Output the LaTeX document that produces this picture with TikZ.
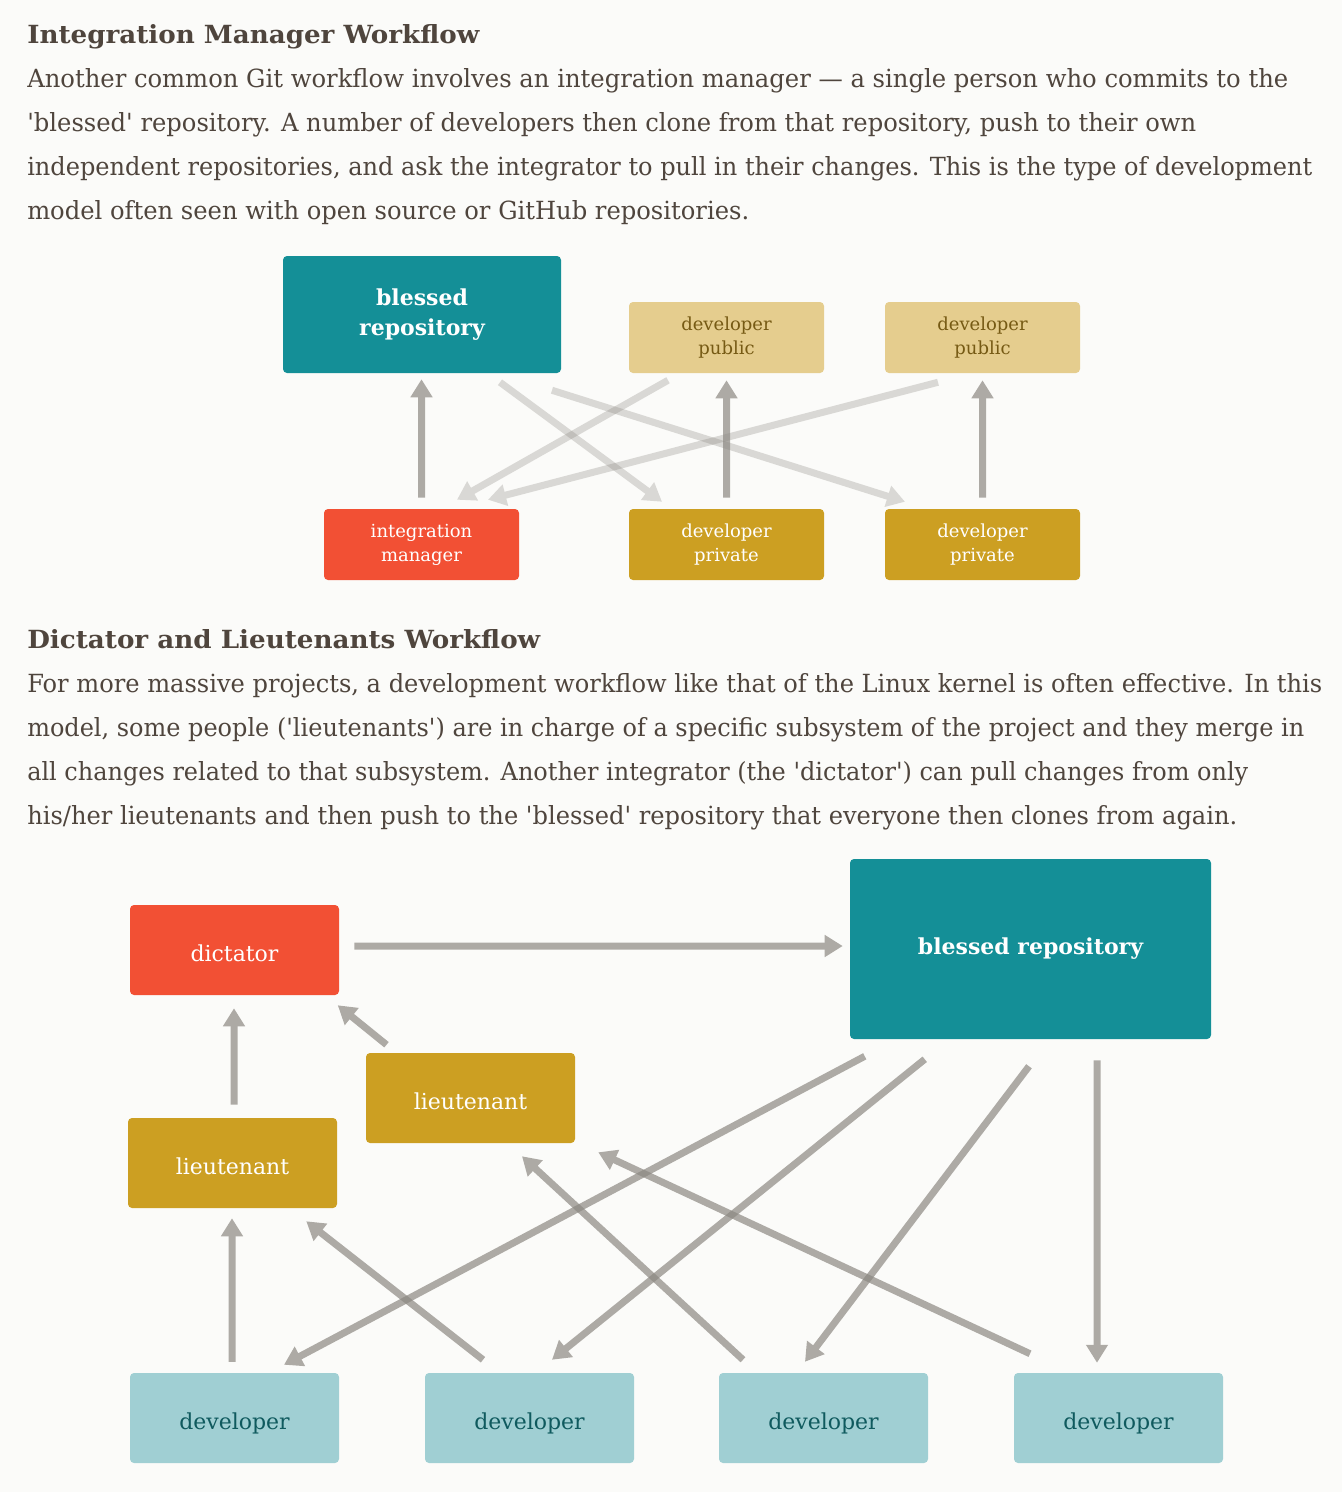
\documentclass[tikz,border=0pt]{standalone}
\usepackage{fontspec}
\setmainfont{DejaVu Serif}
\usepackage{graphicx}
\usetikzlibrary{arrows.meta,calc}
\definecolor{bgc}{HTML}{FBFBF9}
\definecolor{txt}{HTML}{4F453D}
\definecolor{tealc}{HTML}{148F97}
\definecolor{redc}{HTML}{F25034}
\definecolor{goldc}{HTML}{CC9F22}
\definecolor{lgoldc}{HTML}{E5CD8E}
\definecolor{lgoldtxt}{HTML}{765A14}
\definecolor{devc}{HTML}{A0CFD3}
\definecolor{devtxt}{HTML}{0F5A5E}
\definecolor{arrc}{HTML}{8C8882}
\newsavebox\fitbox
\newcommand\fitline[2]{\sbox\fitbox{#2}\scalebox{\fpeval{#1*0.75/\wd\fitbox}}[1]{\usebox\fitbox}}
\newcommand\sq{\textquotesingle}
\newcommand\conn[3]{\begin{scope}[transparency group, opacity=#1]\draw[connline] #2 -- #3;\end{scope}}
\begin{document}
\begin{tikzpicture}[x=0.75pt,y=-0.75pt,
  body/.style={anchor=base west, inner sep=0pt, text=txt, font=\fontsize{18.75pt}{33pt}\selectfont},
  head/.style={body, font=\bfseries\fontsize{18.75pt}{33pt}\selectfont},
  box/.style={rectangle, rounded corners=3pt, inner sep=0pt, align=center},
  smallbox/.style={box, minimum width=146.25pt, minimum height=53.25pt, font=\fontsize{13.5pt}{18pt}\selectfont},
  bigbox/.style={box, minimum width=156.75pt, minimum height=67.5pt, text height=16.5pt, text depth=0pt, font=\fontsize{16.5pt}{20pt}\selectfont},
  connline/.style={draw=arrc, line width=5.25pt, -{Triangle[length=13.5pt,width=15.75pt]}}]
\fill[bgc] (0,0) rectangle (1342,1492);
\useasboundingbox (0,0) rectangle (1342,1492);

% texts
\node[head] (h1) at (27,43.5) {\fitline{452}{Integration Manager Workflow}};
\node[body] (p1a) at (27,87.7) {\fitline{1261}{Another common Git workflow involves an integration manager — a single person who commits to the}};
\node[body] (p1b) at (27,131.7) {\fitline{1169}{\sq blessed\sq{} repository. A number of developers then clone from that repository, push to their own}};
\node[body] (p1c) at (27,175.7) {\fitline{1285}{independent repositories, and ask the integrator to pull in their changes. This is the type of development}};
\node[body] (p1d) at (27,219.7) {\fitline{722}{model often seen with open source or GitHub repositories.}};

\node[head] (h2) at (27,648.3) {\fitline{513}{Dictator and Lieutenants Workflow}};
\node[body] (p2a) at (27,692.3) {\fitline{1295}{For more massive projects, a development workflow like that of the Linux kernel is often effective. In this}};
\node[body] (p2b) at (27,736.3) {\fitline{1277}{model, some people (\sq lieutenants\sq) are in charge of a specific subsystem of the project and they merge in}};
\node[body] (p2c) at (27,780.3) {\fitline{1221}{all changes related to that subsystem. Another integrator (the \sq dictator\sq) can pull changes from only}};
\node[body] (p2d) at (27,824.3) {\fitline{1210}{his/her lieutenants and then push to the \sq blessed\sq{} repository that everyone then clones from again.}};

% top diagram
\node[box, fill=tealc, text=white, minimum width=208.5pt, minimum height=87.75pt, font=\bfseries\fontsize{16.5pt}{22.5pt}\selectfont] (bl1) at (422,314.5) {blessed\\repository};
\node[smallbox, fill=lgoldc, text=lgoldtxt] (dp1) at (726.5,337.5) {developer\\public};
\node[smallbox, fill=lgoldc, text=lgoldtxt] (dp2) at (982.5,337.5) {developer\\public};
\node[smallbox, fill=redc, text=white] (im) at (421.5,544.5) {integration\\manager};
\node[smallbox, fill=goldc, text=white] (dv1) at (726.5,544.5) {developer\\private};
\node[smallbox, fill=goldc, text=white] (dv2) at (982.5,544.5) {developer\\private};

\conn{0.3}{($(bl1.south)+(78,9)$)}{($(dv1.north)+(-64.5,-7)$)}
\conn{0.3}{($(bl1.south)+(130,17)$)}{($(dv2.north)+(-77.5,-7)$)}
\conn{0.3}{($(dp1.south)+(-58.5,7)$)}{($(im.north)+(35.5,-9)$)}
\conn{0.3}{($(dp2.south)+(-44.5,9)$)}{($(im.north)+(66.5,-9)$)}
\conn{0.7}{($(im.north)+(0,-11)$)}{($(bl1.south)+(-0.5,6)$)}
\conn{0.7}{($(dv1.north)+(0,-11)$)}{($(dp1.south)+(0,7)$)}
\conn{0.7}{($(dv2.north)+(0,-11)$)}{($(dp2.south)+(0,7)$)}

% bottom diagram
\node[bigbox, fill=redc, text=white] (dict) at (234.5,950) {dictator};
\node[box, fill=tealc, text=white, minimum width=270.75pt, minimum height=135pt, font=\bfseries\fontsize{16.5pt}{20pt}\selectfont] (bl2) at (1030.5,949) {blessed repository};
\node[bigbox, fill=goldc, text=white] (lt1) at (232.5,1163) {lieutenant};
\node[bigbox, fill=goldc, text=white] (lt2) at (470.5,1098) {lieutenant};
\node[bigbox, fill=devc, text=devtxt] (d1) at (234.5,1418) {developer};
\node[bigbox, fill=devc, text=devtxt] (d2) at (529.5,1418) {developer};
\node[bigbox, fill=devc, text=devtxt] (d3) at (823.5,1418) {developer};
\node[bigbox, fill=devc, text=devtxt] (d4) at (1118.5,1418) {developer};

\conn{0.7}{($(dict.east)+(15,-4)$)}{($(bl2.west)+(-7,-3)$)}
\conn{0.7}{($(lt1.north)+(1.5,-13)$)}{($(dict.south)+(-0.5,13)$)}
\conn{0.7}{($(lt2.north)+(-84,-8)$)}{($(dict.south east)+(-1.5,10)$)}
\conn{0.7}{($(d1.north)+(-2.5,-11)$)}{($(lt1.south)+(-0.5,10)$)}
\conn{0.7}{($(d2.north)+(-46.5,-13)$)}{($(lt1.south east)+(-31,13)$)}
\conn{0.7}{($(d3.north)+(-80.5,-13)$)}{($(lt2.south)+(51.5,13)$)}
\conn{0.7}{($(d4.north)+(-88.5,-19)$)}{($(lt2.south east)+(23,9)$)}
\conn{0.7}{($(bl2.south west)+(15,17)$)}{($(d1.north)+(49.5,-8)$)}
\conn{0.7}{($(bl2.south west)+(75,20)$)}{($(d2.north)+(22.5,-13)$)}
\conn{0.7}{($(bl2.south)+(-1.5,27)$)}{($(d3.north)+(-18.5,-11)$)}
\conn{0.7}{($(bl2.south)+(66.5,21)$)}{($(d4.north)+(-21.5,-10)$)}
\end{tikzpicture}
\end{document}
